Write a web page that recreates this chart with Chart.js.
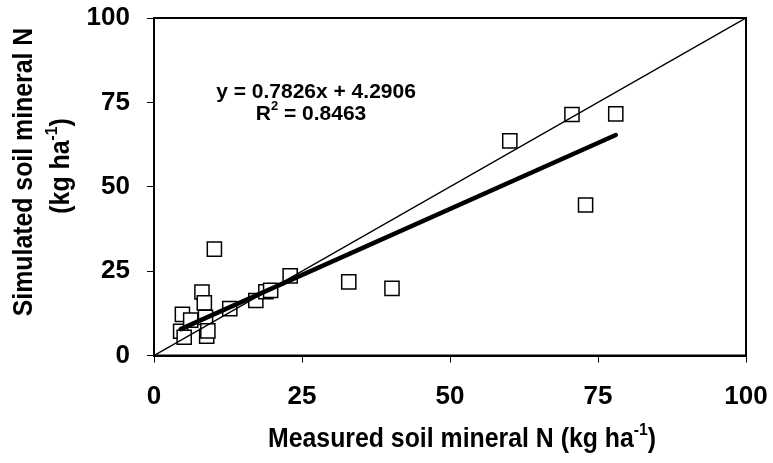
<!DOCTYPE html>
<html>
<head>
<meta charset="utf-8">
<script src="https://cdn.jsdelivr.net/npm/chart.js@4"></script>
<style>
  html, body { margin: 0; padding: 0; background: #fff; }
</style>
</head>
<body>
<canvas id="myChart" width="773" height="463"></canvas>
<script>
// measured vs simulated soil mineral N (kg/ha)
let measured = [4.5, 5.1, 4.8, 6.2, 8.1, 8.5, 8.7, 8.9, 9.1, 10.2, 12.8, 17.2, 18.9, 19.7, 23.0, 32.9, 40.2, 60.1, 70.6, 72.9, 78.0];
let simulated = [7.2, 5.4, 12.2, 10.5, 18.8, 15.6, 11.3, 5.7, 7.3, 31.5, 13.9, 16.3, 18.9, 19.3, 23.6, 21.8, 19.9, 63.6, 71.4, 44.6, 71.6];
let ticks = [0, 25, 50, 75, 100];

// fitted trendline y = 0.7826x + 4.2906 over the measured range
let slope = 0.7826;
let intercept = 4.2906;
let r2 = 0.8463;
let trendX = [Math.min(...measured), Math.max(...measured)];

let font = '"Liberation Sans", Arial, sans-serif';

let points = measured.map((x, i) => ({ x: x, y: simulated[i] }));
let oneToOne = [{ x: ticks[0], y: ticks[0] }, { x: ticks[4], y: ticks[4] }];
let trend = trendX.map((x) => ({ x: x, y: slope * x + intercept }));

// draw a centred line of text, parts flagged true are superscript
function drawParts(ctx, parts, size, x, y, squeeze) {
  let big = "bold " + size + "px " + font;
  let small = "bold " + Math.round(size * 0.62) + "px " + font;
  let total = 0;
  parts.forEach((p) => {
    ctx.font = p[1] ? small : big;
    total += ctx.measureText(p[0]).width;
  });
  ctx.save();
  ctx.translate(x, y);
  ctx.scale(squeeze || 1, 1);
  let cx = -total / 2;
  parts.forEach((p) => {
    ctx.font = p[1] ? small : big;
    ctx.fillText(p[0], cx, p[1] ? -size * 0.36 : 0);
    cx += ctx.measureText(p[0]).width;
  });
  ctx.restore();
}

const decorations = {
  id: "decorations",
  afterDraw(chart) {
    let ctx = chart.ctx;
    let a = chart.chartArea;
    ctx.save();
    // box round the plot
    ctx.strokeStyle = "#000";
    ctx.lineWidth = 2;
    ctx.strokeRect(a.left, a.top, a.right - a.left, a.bottom - a.top);

    ctx.fillStyle = "#000";
    ctx.textBaseline = "middle";
    ctx.textAlign = "left";

    // x axis title
    drawParts(ctx, [["Measured soil mineral N (kg ha", false], ["-1", true], [")", false]], 27, 462, 440, 0.92);

    // y axis title, two lines rotated
    ctx.save();
    ctx.translate(25, 172);
    ctx.rotate(-Math.PI / 2);
    drawParts(ctx, [["Simulated soil mineral N", false]], 27, 0, 0, 0.92);
    ctx.restore();
    ctx.save();
    ctx.translate(62, 166);
    ctx.rotate(-Math.PI / 2);
    drawParts(ctx, [["(kg ha", false], ["-1", true], [")", false]], 27, 0, 0, 0.92);
    ctx.restore();

    // trendline equation
    drawParts(ctx, [["y = " + slope.toFixed(4) + "x + " + intercept.toFixed(4), false]], 21, 316, 92);
    drawParts(ctx, [["R", false], ["2", true], [" = " + r2.toFixed(4), false]], 21, 311, 114);
    ctx.restore();
  },
};

var ctx = document.getElementById("myChart").getContext("2d");
var myChart = new Chart(ctx, {
  type: "scatter",
  data: {
    datasets: [
      {
        label: "1:1",
        type: "line",
        data: oneToOne,
        borderColor: "#000",
        borderWidth: 1.5,
        pointRadius: 0,
        order: 0,
      },
      {
        label: "trend",
        type: "line",
        data: trend,
        borderColor: "#000",
        borderWidth: 4.5,
        borderCapStyle: "round",
        pointRadius: 0,
        order: 1,
      },
      {
        label: "obs",
        data: points,
        pointStyle: "rect",
        pointRadius: 10,
        pointHoverRadius: 10,
        backgroundColor: "#fff",
        borderColor: "#000",
        borderWidth: 1.5,
        order: 2,
      },
    ],
  },
  plugins: [decorations],
  options: {
    responsive: false,
    animation: false,
    devicePixelRatio: 1,
    layout: { padding: { top: 18, right: 27, left: 0, bottom: 0 } },
    plugins: { legend: { display: false }, tooltip: { enabled: false } },
    scales: {
      x: {
        type: "linear",
        min: 0,
        max: 100,
        afterBuildTicks: (s) => { s.ticks = ticks.map((v) => ({ value: v })); },
        afterFit: (s) => { s.height = 107.5; s.paddingLeft = 0; s.paddingRight = 0; },
        ticks: { color: "#000", padding: 19, font: { family: font, size: 26, weight: "bold" } },
        grid: { drawOnChartArea: false, color: "#000", tickLength: 7, lineWidth: 1 },
        border: { color: "#000", width: 2 },
      },
      y: {
        type: "linear",
        min: 0,
        max: 100,
        afterBuildTicks: (s) => { s.ticks = ticks.map((v) => ({ value: v })); },
        afterFit: (s) => { s.width = 154; s.paddingTop = 0; s.paddingBottom = 0; },
        ticks: { color: "#000", padding: 17, font: { family: font, size: 26, weight: "bold" } },
        grid: { drawOnChartArea: false, color: "#000", tickLength: 7, lineWidth: 1 },
        border: { color: "#000", width: 2 },
      },
    },
  },
});
</script>
</body>
</html>
